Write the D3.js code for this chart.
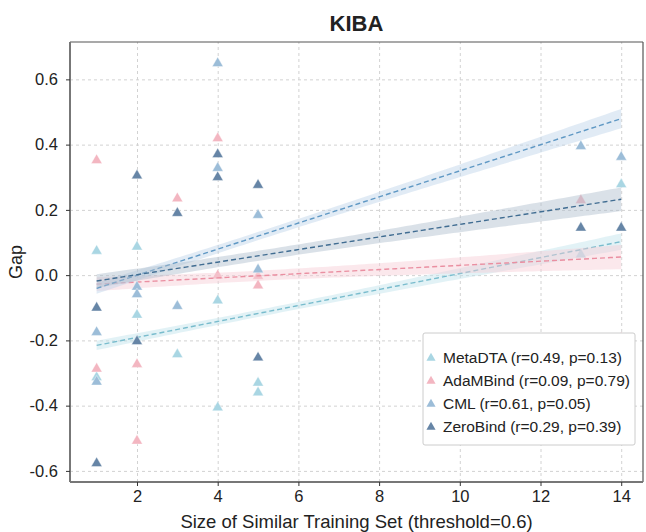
<!DOCTYPE html>
<html>
<head>
<meta charset="utf-8">
<script src="https://cdn.jsdelivr.net/npm/d3@7"></script>
<style>
  body { margin: 0; background: #fff; }
  svg { font-family: "Liberation Sans", Arial, sans-serif; }
</style>
</head>
<body>
<svg id="chart"></svg>
<script>
// size of similar training set, shared by every model
const xSize = [1, 1, 2, 2, 3, 4, 4, 5, 5, 13, 14]

const models = ["MetaDTA", "AdaMBind", "CML", "ZeroBind"]
const metaDTA = [0.077, -0.310, 0.090, -0.119, -0.240, -0.075, -0.403, -0.327, -0.357, 0.066, 0.281]
const adaMBind = [0.355, -0.284, -0.270, -0.505, 0.238, 0.422, 0.002, 0.000, -0.029, 0.232, -0.190]
const cml = [-0.172, -0.324, -0.033, -0.056, -0.092, 0.652, 0.331, 0.187, 0.020, 0.398, 0.365]
const zeroBind = [-0.097, -0.574, 0.308, -0.200, 0.193, 0.373, 0.303, 0.279, -0.250, 0.148, 0.148]
const rLabels = ["0.49", "0.09", "0.61", "0.29"]
const pLabels = ["0.13", "0.79", "0.05", "0.39"]

const xTicks = [2, 4, 6, 8, 10, 12, 14]
const yTicks = [-0.6, -0.4, -0.2, 0.0, 0.2, 0.4, 0.6]

const series = [metaDTA, adaMBind, cml, zeroBind]
const dotColors = ["#a9d6e3", "#f3b6c1", "#9cbdd8", "#6685a6"]
const lineColors = ["#79bccd", "#ea8fa1", "#5f98c4", "#416d92"]
const bandColors = ["#bfe3ea", "#f7ccd4", "#bcd3e8", "#aebccd"]

let width = 646
let height = 532
let padL = 70, padR = 643, padT = 42, padB = 482

let svg = d3.select("#chart").attr("width", width).attr("height", height)

let xScale = d3.scaleLinear().domain([0.34, 14.54]).range([padL, padR])
let yScale = d3.scaleLinear().domain([-0.634, 0.7145]).range([padB, padT])

// grid
svg.append("g")
  .attr("class", "grid")
  .attr("transform", "translate(0," + padB + ")")
  .call(d3.axisBottom(xScale).tickValues(xTicks).tickSize(-(padB - padT)).tickFormat(""))
  .call(g => g.select(".domain").remove())

svg.append("g")
  .attr("class", "grid")
  .attr("transform", "translate(" + padL + ",0)")
  .call(d3.axisLeft(yScale).tickValues(yTicks).tickSize(-(padR - padL)).tickFormat(""))
  .call(g => g.select(".domain").remove())

svg.selectAll(".grid line").attr("stroke", "#d2d2d2").attr("stroke-dasharray", "3,3")

let plot = svg.append("g")

// simple least squares fit with a narrow band around it
let fit = (ys) => {
  let n = xSize.length
  let mx = d3.mean(xSize), my = d3.mean(ys)
  let sxx = d3.sum(xSize, x => (x - mx) * (x - mx))
  let sxy = d3.sum(xSize, (x, i) => (x - mx) * (ys[i] - my))
  let slope = sxy / sxx
  let icpt = my - slope * mx
  let sse = d3.sum(xSize, (x, i) => Math.pow(ys[i] - (icpt + slope * x), 2))
  let s = Math.sqrt(sse / (n - 2))
  let xs = d3.range(0, 101).map(k => 1 + 13 * k / 100)
  return xs.map(x => {
    let yh = icpt + slope * x
    let half = 0.17 * s * Math.sqrt(1 / n + (x - mx) * (x - mx) / sxx)
    return { x: x, y: yh, lo: yh - half, hi: yh + half }
  })
}

let tri = d3.symbol().type(d3.symbolTriangle).size(52)

series.forEach((ys, m) => {
  let pts = xSize.map((x, i) => ({ x: x, y: ys[i] }))
  plot.append("g").selectAll("path")
    .data(pts)
    .enter()
    .append("path")
    .attr("d", tri)
    .attr("transform", d => "translate(" + xScale(d.x) + "," + (yScale(d.y) + 1) + ")")
    .attr("fill", dotColors[m])
    .attr("stroke", "#fff")
    .attr("stroke-width", 0.4)

  let line = fit(ys)
  plot.append("path")
    .datum(line)
    .attr("d", d3.area().x(d => xScale(d.x)).y0(d => yScale(d.lo)).y1(d => yScale(d.hi)))
    .attr("fill", bandColors[m])
    .attr("opacity", 0.45)
  plot.append("path")
    .datum(line)
    .attr("d", d3.line().x(d => xScale(d.x)).y(d => yScale(d.y)))
    .attr("fill", "none")
    .attr("stroke", lineColors[m])
    .attr("stroke-width", 1.4)
    .attr("stroke-dasharray", "5,3")
})

// frame
svg.append("line").attr("x1", padL).attr("x2", padR).attr("y1", padT).attr("y2", padT).attr("stroke", "#555").attr("stroke-width", 1.2)
svg.append("line").attr("x1", padR).attr("x2", padR).attr("y1", padT).attr("y2", padB).attr("stroke", "#555").attr("stroke-width", 1.2)

let xAxis = svg.append("g")
  .attr("class", "axis")
  .attr("transform", "translate(0," + padB + ")")
  .call(d3.axisBottom(xScale).tickValues(xTicks).tickSize(4).tickPadding(4).tickFormat(d => d))
xAxis.select(".domain").attr("stroke", "#777").attr("stroke-width", 2).attr("d", "M" + padL + ",0H" + padR)

let yAxis = svg.append("g")
  .attr("class", "axis")
  .attr("transform", "translate(" + padL + ",0)")
  .call(d3.axisLeft(yScale).tickValues(yTicks).tickSize(4).tickPadding(8).tickFormat(d => d.toFixed(1)))
yAxis.select(".domain").attr("stroke", "#777").attr("stroke-width", 2).attr("d", "M0," + padT + "V" + padB)

svg.selectAll(".axis .tick text").attr("font-size", 16.5).attr("fill", "#222").attr("font-family", "Liberation Sans, Arial, sans-serif")
svg.selectAll(".axis .tick line").attr("stroke", "#333")

// titles
svg.append("text").attr("x", (padL + padR) / 2).attr("y", 31).attr("text-anchor", "middle")
  .attr("font-size", 22).attr("font-weight", "bold").attr("fill", "#222").text("KIBA")
svg.append("text").attr("x", (padL + padR) / 2).attr("y", 528).attr("text-anchor", "middle")
  .attr("font-size", 18.5).attr("fill", "#222").text("Size of Similar Training Set (threshold=0.6)")
svg.append("text").attr("transform", "translate(22," + ((padT + padB) / 2) + ") rotate(-90)")
  .attr("text-anchor", "middle").attr("font-size", 18).attr("fill", "#222").text("Gap")

// legend
let legend = svg.append("g").attr("transform", "translate(423,333)")
legend.append("rect").attr("width", 212).attr("height", 112).attr("rx", 2)
  .attr("fill", "#fff").attr("stroke", "#ccc")
let legTri = d3.symbol().type(d3.symbolTriangle).size(36)
models.forEach((name, m) => {
  let row = legend.append("g").attr("transform", "translate(0," + (24 + m * 23) + ")")
  row.append("path").attr("d", legTri).attr("transform", "translate(8,1)").attr("fill", dotColors[m])
  row.append("text").attr("x", 20).attr("y", 5.5).attr("font-size", 15.5).attr("fill", "#222")
    .text(name + " (r=" + rLabels[m] + ", p=" + pLabels[m] + ")")
})
</script>
</body>
</html>
